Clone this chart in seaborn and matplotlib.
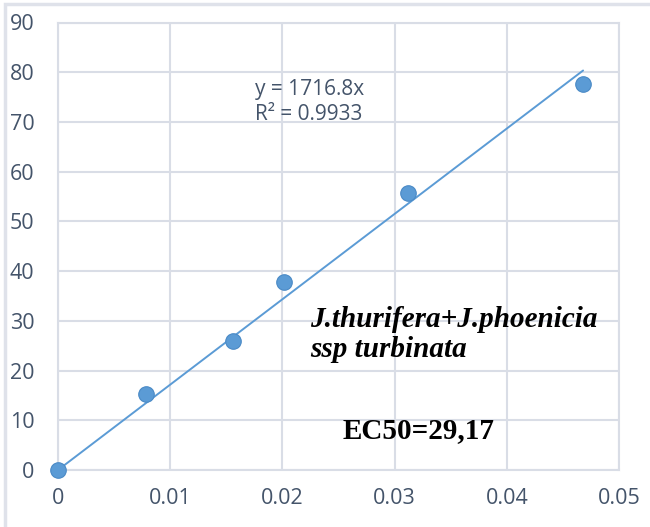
import matplotlib
matplotlib.use("Agg")
import matplotlib.pyplot as plt
import numpy as np
import pandas as pd
import seaborn as sns
from matplotlib.patches import Rectangle

# data
concentration = [0.0, 0.0078, 0.0156, 0.0201, 0.0312, 0.0468]
inhibition = [0.0, 15.3, 25.9, 37.9, 55.8, 77.6]
slope = 1716.8
r_squared = 0.9933
x_ticks = [0, 0.01, 0.02, 0.03, 0.04, 0.05]
x_tick_labels = ["0", "0.01", "0.02", "0.03", "0.04", "0.05"]
y_ticks = [0, 10, 20, 30, 40, 50, 60, 70, 80, 90]
species_label = "J.thurifera+J.phoenicia\nssp turbinata"
ec50_label = "EC50=29,17"

grid_color = "#d9dde6"
text_color = "#44546a"
point_color = "#5b9bd5"

sns.set_theme(style="white")
plt.rcParams["font.family"] = ["Open Sans", "DejaVu Sans"]

df = pd.DataFrame({"x": concentration, "y": inhibition})
trend = pd.DataFrame({"x": [0.0, max(concentration)]})
trend["y"] = slope * trend["x"]

fig = plt.figure(figsize=(6.5, 5.27), dpi=100)
ax = fig.add_axes([58 / 650, 1 - 470 / 527, (619 - 58) / 650, (470 - 22.5) / 527])

# outer chart frame (cut off on right/bottom in the screenshot)
fig.patches.append(Rectangle((5 / 650, -0.1), 1.2, 1 - 4 / 527 + 0.1,
                             transform=fig.transFigure, fill=False,
                             edgecolor="#dfe2ea", lw=2.5))

sns.lineplot(data=trend, x="x", y="y", ax=ax, color=point_color, lw=1.4, zorder=3)
sns.scatterplot(data=df, x="x", y="y", ax=ax, s=125, color=point_color,
                edgecolor="#4a8ac6", linewidth=0.8, zorder=4, clip_on=False)

ax.set_xlim(0, 0.05)
ax.set_ylim(0, 90)
ax.set_xticks(x_ticks)
ax.set_xticklabels(x_tick_labels)
ax.set_yticks(y_ticks)
ax.grid(True, color=grid_color, lw=1.5)
for s in ax.spines.values():
    s.set_color(grid_color)
    s.set_linewidth(1.5)
ax.tick_params(axis="both", length=0, labelsize=15.5, labelcolor=text_color)
ax.tick_params(axis="y", pad=17)
ax.tick_params(axis="x", pad=13)
ax.set_xlabel("")
ax.set_ylabel("")

ax.text(0.0176, 74.0, f"y = {slope}x\nR² = {r_squared}", ha="left", va="center",
        fontsize=15, color=text_color, linespacing=1.2)
ax.text(0.0225, 27.2, species_label, ha="left", va="center",
        fontsize=21, fontweight="bold", fontstyle="italic",
        family=["Liberation Serif", "DejaVu Serif"], color="black", linespacing=1.15)
ax.text(0.0254, 8.0, ec50_label, ha="left", va="center",
        fontsize=21, fontweight="bold",
        family=["Liberation Serif", "DejaVu Serif"], color="black")

fig.savefig("out.png", dpi=100)
